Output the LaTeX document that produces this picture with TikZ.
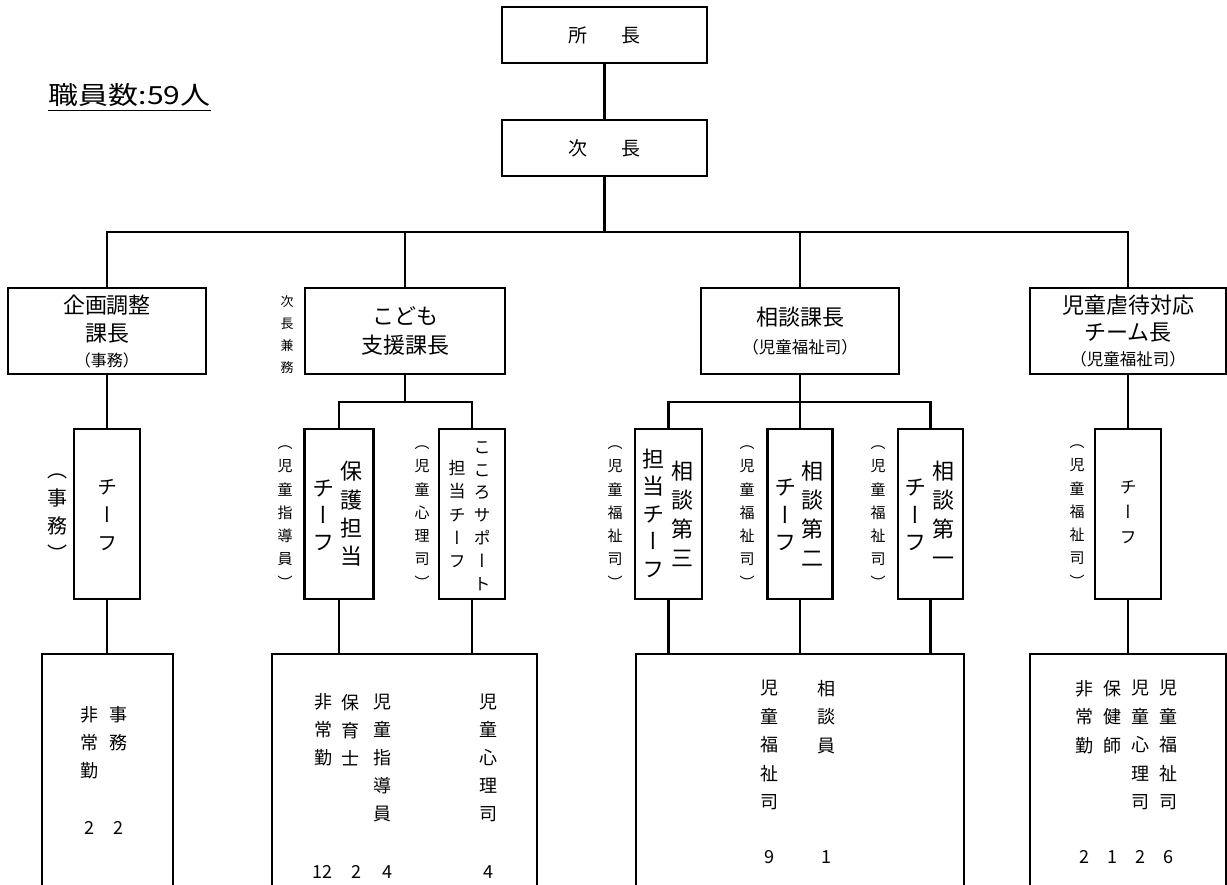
\documentclass[tikz,border=0pt]{standalone}
\usepackage{fontspec}
\usepackage{graphicx}
\setmainfont{Noto Sans CJK JP}
\newfontfamily\jpv[RawFeature=+vert]{Noto Sans CJK JP}
\newcommand\hf[2]{\fontsize{#1}{#2}\selectfont}
\newcommand\vf[2]{\fontsize{#1}{#2}\selectfont\jpv}
\begin{document}
\begin{tikzpicture}[x=1pt,y=-1pt,line width=2.2pt,
  box/.style={draw,line width=2.2pt,inner sep=0pt,align=center},
  vt/.style={inner sep=0pt,align=center},
  num/.style={inner sep=0pt,font=\hf{18}{18}}]
\useasboundingbox (0,0) rectangle (1227,885);

% title
\node[inner sep=0pt,font=\hf{25}{25}] (title) at (129.5,95) {\scalebox{1.2}[1]{職員数:59人}};
\draw[line width=1.6pt] ([yshift=-3pt]title.south west) -- ([yshift=-3pt]title.south east);

% top
\node[box,minimum width=205pt,minimum height=56pt,font=\hf{19}{19}] (shocho) at (604.5,35) {所\hspace{34pt}長};
\node[box,minimum width=205pt,minimum height=56pt,font=\hf{19}{19}] (jicho) at (604.5,148) {次\hspace{34pt}長};

% level 2
\node[box,minimum width=198pt,minimum height=86pt,font=\hf{22}{28}] (kikaku) at (107,331)
  {企画調整\\課長\\[-3pt]{\hf{16}{16}（事務）}};
\node[box,minimum width=200pt,minimum height=86pt,font=\hf{22}{29}] (kodomo) at (405,331)
  {こども\\支援課長};
\node[box,minimum width=198pt,minimum height=86pt,font=\hf{22}{28}] (sodan) at (800,331)
  {相談課長\\{\hf{16.5}{16.5}（児童福祉司）}};
\node[box,minimum width=196pt,minimum height=86pt,font=\hf{22}{27}] (gyaku) at (1128,331)
  {児童虐待対応\\チーム長\\[-2pt]{\hf{16.5}{16.5}（児童福祉司）}};
\node[vt,font=\vf{13}{22}] (kenmu) at (287,335) {次\\長\\兼\\務};

% level 3 boxes
\node[box,minimum width=66pt,minimum height=170pt] (kc) at (107,514) {};
\node[box,minimum width=69pt,minimum height=170pt] (hc) at (339,514) {};
\node[box,minimum width=66pt,minimum height=170pt] (cc) at (472,514) {};
\node[box,minimum width=67pt,minimum height=170pt] (s3) at (668.5,514) {};
\node[box,minimum width=65pt,minimum height=170pt] (s2) at (800,514) {};
\node[box,minimum width=65pt,minimum height=170pt] (s1) at (930.5,514) {};
\node[box,minimum width=66pt,minimum height=170pt] (gc) at (1128,514) {};

% level 3 texts
\node[vt,font=\vf{20}{28}] (kcT) at (107,515) {チ\\ー\\フ};
\node[vt,font=\vf{20}{28}] (kcP) at (57,518) {（\\事\\務\\）};
\node[vt,font=\vf{15}{23.3}] (hcP) at (285,517) {（\\児\\童\\指\\導\\員\\）};
\node[vt,font=\vf{22}{28.3}] (hcA) at (351,514) {保\\護\\担\\当};
\node[vt,font=\vf{22}{27}] (hcB) at (323,515) {チ\\ー\\フ};
\node[vt,font=\vf{15}{23.3}] (ccP) at (422,517) {（\\児\\童\\心\\理\\司\\）};
\node[vt,font=\vf{17}{22.8}] (ccA) at (482,516) {こ\\こ\\ろ\\サ\\ポ\\ー\\ト};
\node[vt,font=\vf{17}{23.2}] (ccB) at (457,514) {担\\当\\チ\\ー\\フ};
\node[vt,font=\vf{15}{23.3}] (s3P) at (615,517) {（\\児\\童\\福\\祉\\司\\）};
\node[vt,font=\vf{22}{29}] (s3A) at (682,514) {相\\談\\第\\三};
\node[vt,font=\vf{22}{27.5}] (s3B) at (653,513) {担\\当\\チ\\ー\\フ};
\node[vt,font=\vf{15}{23.3}] (s2P) at (747,517) {（\\児\\童\\福\\祉\\司\\）};
\node[vt,font=\vf{22}{29}] (s2A) at (812,514) {相\\談\\第\\二};
\node[vt,font=\vf{22}{27.5}] (s2B) at (785,515) {チ\\ー\\フ};
\node[vt,font=\vf{15}{23.3}] (s1P) at (878,517) {（\\児\\童\\福\\祉\\司\\）};
\node[vt,font=\vf{22}{29}] (s1A) at (943,514) {相\\談\\第\\一};
\node[vt,font=\vf{22}{27.5}] (s1B) at (915,515) {チ\\ー\\フ};
\node[vt,font=\vf{15}{23.3}] (gcP) at (1077,516) {（\\児\\童\\福\\祉\\司\\）};
\node[vt,font=\vf{17}{25}] (gcT) at (1128,512) {チ\\ー\\フ};

% bottom boxes
\node[box,minimum width=131pt,minimum height=236pt] (kbot) at (107.5,772) {};
\node[box,minimum width=265pt,minimum height=236pt] (cbot) at (404.5,772) {};
\node[box,minimum width=328pt,minimum height=236pt] (sbot) at (800,772) {};
\node[box,minimum width=196pt,minimum height=236pt] (gbot) at (1128,772) {};

% bottom texts
\node[vt,font=\vf{18}{28}] (kb1) at (89,743) {非\\常\\勤};
\node[vt,font=\vf{18}{28}] (kb2) at (118,729) {事\\務};
\node[num] (kn1) at (89,828) {2};
\node[num] (kn2) at (118,828) {2};

\node[vt,font=\vf{18}{28}] (cb1) at (323,730) {非\\常\\勤};
\node[vt,font=\vf{18}{28}] (cb2) at (350,730) {保\\育\\士};
\node[vt,font=\vf{18}{28}] (cb3) at (382,758) {児\\童\\指\\導\\員};
\node[vt,font=\vf{18}{28}] (cb4) at (488,758) {児\\童\\心\\理\\司};
\node[num] (cn1) at (322,872) {12};
\node[num] (cn2) at (356,872) {2};
\node[num] (cn3) at (387,872) {4};
\node[num] (cn4) at (488,872) {4};

\node[vt,font=\vf{18}{28.5}] (sb1) at (769,745) {児\\童\\福\\祉\\司};
\node[vt,font=\vf{18}{28.5}] (sb2) at (826,717) {相\\談\\員};
\node[num] (sn1) at (769,857) {9};
\node[num] (sn2) at (826,857) {1};

\node[vt,font=\vf{18}{28.5}] (gb1) at (1084,717) {非\\常\\勤};
\node[vt,font=\vf{18}{28.5}] (gb2) at (1112,717) {保\\健\\師};
\node[vt,font=\vf{18}{28.5}] (gb3) at (1140,745) {児\\童\\心\\理\\司};
\node[vt,font=\vf{18}{28.5}] (gb4) at (1168,745) {児\\童\\福\\祉\\司};
\node[num] (gn1) at (1084,857) {2};
\node[num] (gn2) at (1112,857) {1};
\node[num] (gn3) at (1140,857) {2};
\node[num] (gn4) at (1168,857) {6};

% connectors
\coordinate (bus) at (604.5,232);
\draw (shocho) -- (jicho);
\draw (jicho) -- (bus);
\draw (kikaku.north) |- (bus) -| (gyaku.north);
\draw (kodomo.north) -- (kodomo.north |- bus);
\draw (sodan.north) -- (sodan.north |- bus);
\draw (kikaku) -- (kc);
\coordinate (kbr) at (405,402);
\draw (kodomo.south) -- (kbr);
\draw (hc.north) |- (kbr) -| (cc.north);
\coordinate (sbr) at (800,402);
\draw (sodan.south) -- (sbr);
\draw (s3.north) |- (sbr) -| (s1.north);
\draw (s2.north) -- (sbr);
\draw (gyaku) -- (gc);
\draw (kc.south) -- (kc.south |- kbot.north);
\draw (hc.south) -- (hc.south |- cbot.north);
\draw (cc.south) -- (cc.south |- cbot.north);
\draw (s3.south) -- (s3.south |- sbot.north);
\draw (s2.south) -- (s2.south |- sbot.north);
\draw (s1.south) -- (s1.south |- sbot.north);
\draw (gc.south) -- (gc.south |- gbot.north);
\end{tikzpicture}
\end{document}
